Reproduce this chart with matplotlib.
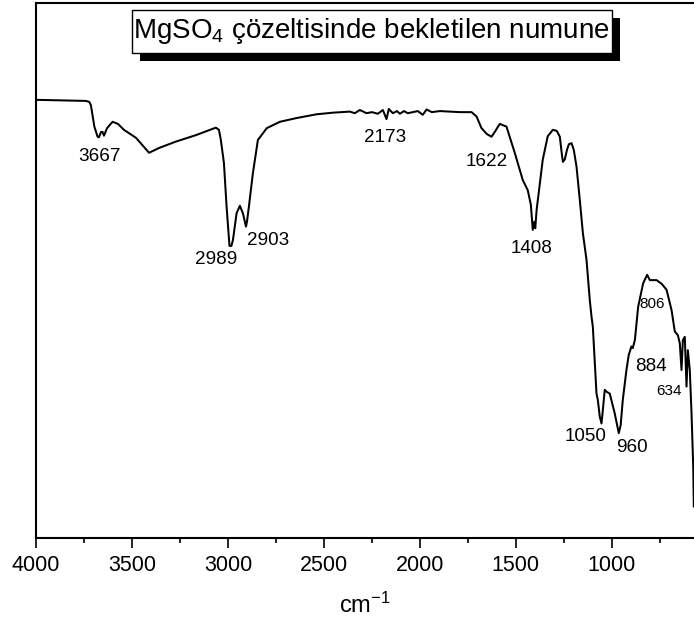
import matplotlib
matplotlib.use("Agg")
import matplotlib.pyplot as plt
from matplotlib.patches import Rectangle
from matplotlib.ticker import MultipleLocator

plt.rcParams['font.family'] = ['Liberation Sans', 'DejaVu Sans']
plt.rcParams['mathtext.fontset'] = 'custom'
plt.rcParams['mathtext.rm'] = 'Liberation Sans'
plt.rcParams['mathtext.it'] = 'Liberation Sans'
plt.rcParams['axes.unicode_minus'] = False

# FT-IR spectrum (wavenumber cm-1, transmittance arb. %)
wavenumber = [4000, 3875, 3740, 3722, 3714, 3696, 3679, 3672, 3661, 3653, 3646, 3630, 3601,
              3573, 3542, 3479, 3411, 3359, 3271, 3167, 3063, 3047, 3037, 3021, 3007, 3000,
              2992, 2982, 2974, 2955, 2938, 2922, 2906, 2901, 2891, 2870, 2844, 2798, 2729,
              2642, 2538, 2453, 2365, 2339, 2313, 2278, 2250, 2219, 2193, 2174, 2162, 2141,
              2120, 2104, 2083, 2063, 2037, 2011, 1985, 1965, 1938, 1896, 1844, 1792, 1731,
              1705, 1679, 1651, 1627, 1610, 1584, 1549, 1505, 1464, 1438, 1422, 1412, 1404,
              1399, 1392, 1360, 1334, 1307, 1287, 1271, 1260, 1255, 1245, 1234, 1224, 1210,
              1198, 1184, 1167, 1151, 1132, 1115, 1106, 1099, 1080, 1073, 1063, 1054, 1047,
              1037, 1026, 1011, 985, 964, 954, 943, 924, 912, 898, 891, 880, 863, 837, 816,
              802, 767, 740, 715, 689, 672, 656, 646, 637, 630, 620, 611, 604, 594, 585,
              576, 573]
transmittance = [81.9, 81.8, 81.7, 81.5, 80.9, 76.9, 75.0, 74.9, 75.9, 75.9, 75.2, 76.6, 77.8,
                 77.4, 76.3, 74.8, 72.0, 72.9, 74.1, 75.3, 76.7, 76.3, 74.4, 70.1, 61.9, 58.5,
                 54.6, 54.6, 55.7, 60.7, 62.1, 60.7, 58.2, 59.1, 61.9, 68.2, 74.4, 76.6, 77.8,
                 78.5, 79.2, 79.5, 79.7, 79.4, 80.0, 79.4, 79.6, 79.3, 80.0, 78.3, 80.2, 79.4,
                 79.8, 79.3, 79.8, 79.4, 79.6, 79.8, 79.1, 80.1, 79.6, 79.8, 79.7, 79.6, 79.6,
                 78.8, 76.6, 75.5, 75.0, 75.9, 77.4, 76.9, 71.9, 66.9, 65.0, 62.3, 57.6, 59.1,
                 57.9, 61.3, 70.7, 75.1, 76.3, 76.1, 75.0, 71.6, 70.3, 70.8, 72.5, 73.6, 73.8,
                 72.5, 69.4, 63.2, 57.0, 52.0, 44.5, 41.4, 39.5, 27.0, 25.8, 22.7, 21.4, 23.9,
                 27.7, 27.3, 27.0, 23.3, 19.6, 21.1, 25.8, 31.4, 34.2, 35.8, 35.5, 37.0, 43.2,
                 47.6, 49.2, 48.2, 48.2, 47.5, 46.4, 42.6, 38.6, 37.9, 36.4, 31.4, 37.0, 37.6,
                 28.3, 35.1, 31.4, 23.4, 13.3, 5.9]

# peak labels
peak_labels = ["3667", "2989", "2903", "2173", "1622", "1408", "806", "884", "634", "1050", "960"]
# layout: label anchor positions (data coords) and size class
label_x = [3667, 3060, 2792, 2182, 1651, 1417, 792, 797, 703, 1136, 896]
label_y = [71.4, 52.0, 55.7, 74.9, 70.4, 54.2, 43.7, 32.0, 27.4, 19.0, 16.9]
label_small = [False, False, False, False, False, False, True, False, True, False, False]

xticks = [4000, 3500, 3000, 2500, 2000, 1500, 1000]
title_text = "MgSO$_4$ çözeltisinde bekletilen numune"
xlabel_text = "cm$^{-1}$"

W, H = 694, 628
fig = plt.figure(figsize=(W / 100, H / 100), dpi=100)
ax = fig.add_axes([36 / W, 90 / H, 658 / W, 535 / H])

ax.plot(wavenumber, transmittance, color='black', lw=1.45)
ax.set_xlim(4000, 572)
ax.set_ylim(0, 100)

ax.set_xticks(xticks)
ax.set_xticklabels([str(t) for t in xticks])
ax.xaxis.set_minor_locator(MultipleLocator(250))
ax.set_yticks([])
ax.tick_params(axis='x', which='major', direction='out', length=7, width=1.2,
               labelsize=15.5, pad=5)
ax.tick_params(axis='x', which='minor', direction='out', length=3.5, width=1.2)
for s in ['left', 'bottom', 'top']:
    ax.spines[s].set_linewidth(1.5)
ax.spines['right'].set_visible(False)

ax.set_xlabel(xlabel_text, fontsize=17, labelpad=12)

for lab, lx, ly, sm in zip(peak_labels, label_x, label_y, label_small):
    ax.text(lx, ly, lab, fontsize=(11 if sm else 13.6), ha='center', va='center')

# title box with drop shadow (figure pixel layout)
bx0, by0, bx1, by1 = 131.7, 10, 612, 53
sh = 8
fig.patches.append(Rectangle(((bx0 + sh) / W, 1 - (by1 + sh) / H), (bx1 - bx0) / W,
                             (by1 - by0) / H, transform=fig.transFigure,
                             fc='black', ec='black', lw=0, zorder=5))
fig.patches.append(Rectangle((bx0 / W, 1 - by1 / H), (bx1 - bx0) / W, (by1 - by0) / H,
                             transform=fig.transFigure, fc='white', ec='black',
                             lw=1.0, zorder=6))
fig.text((bx0 + bx1) / 2 / W, 1 - (by0 + by1) / 2 / H, title_text,
         ha='center', va='center', fontsize=20, zorder=7)

fig.savefig("out.png", dpi=100)
